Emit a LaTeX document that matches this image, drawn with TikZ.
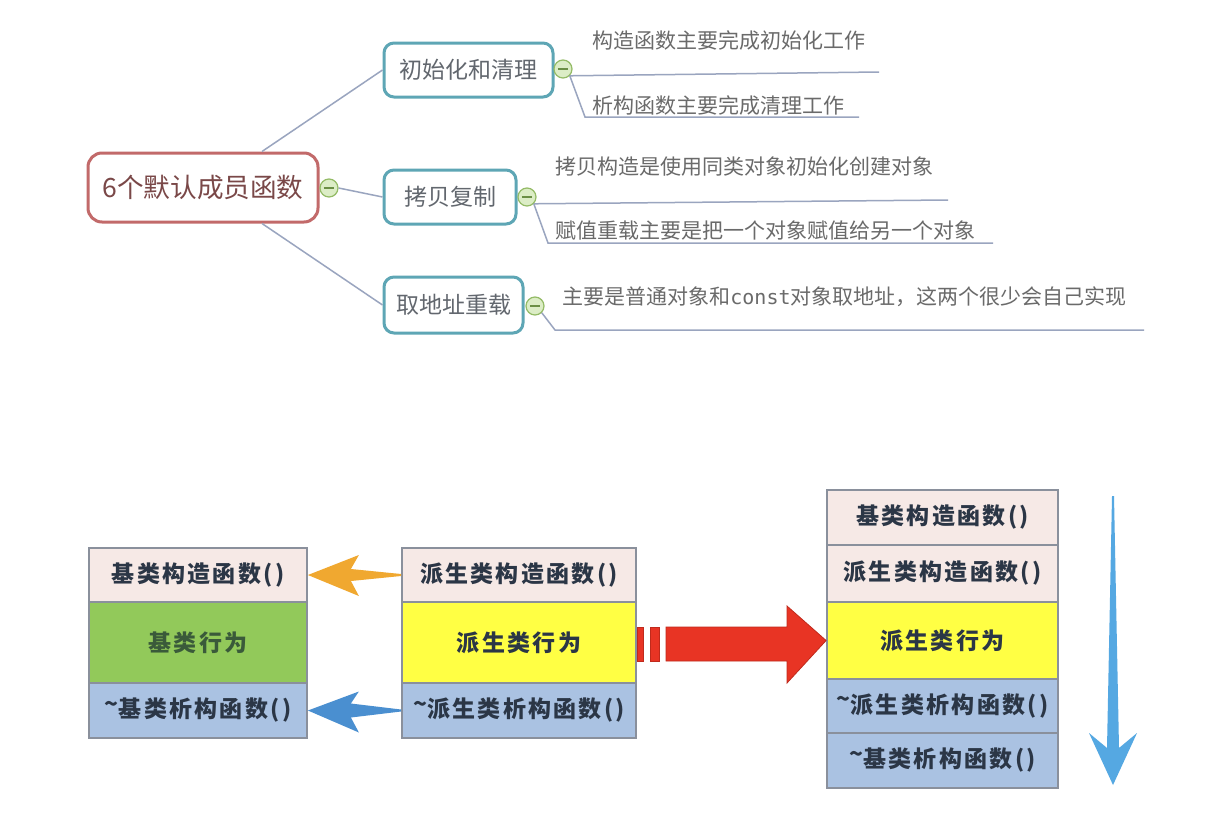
\documentclass[tikz,border=0pt]{standalone}
\usepackage{fontspec}
\setmainfont{Noto Sans CJK SC}
\newfontfamily\monof{DejaVu Sans Mono}
\newfontfamily\cellfont{Noto Sans CJK SC}[LetterSpace=10]
\usetikzlibrary{calc}
\newcommand\hitilde{\raisebox{0.45ex}{\textasciitilde}}
\definecolor{lineC}{HTML}{9AA5BF}
\definecolor{rootC}{HTML}{C26A6A}
\definecolor{rootT}{HTML}{7A4848}
\definecolor{tealC}{HTML}{5EA6B5}
\definecolor{boxT}{HTML}{62676E}
\definecolor{leafT}{HTML}{6A6A6A}
\definecolor{minusF}{HTML}{DCEDC6}
\definecolor{minusD}{HTML}{94BB66}
\definecolor{minusL}{HTML}{6B8F45}
\definecolor{cellB}{HTML}{8A909C}
\definecolor{pinkF}{HTML}{F6E9E6}
\definecolor{greenF}{HTML}{92C95A}
\definecolor{yellowF}{HTML}{FFFF44}
\definecolor{blueF}{HTML}{AAC2E2}
\definecolor{cellT}{HTML}{2B3646}
\definecolor{greenT}{HTML}{3A5A3A}
\definecolor{orangeA}{HTML}{F0A830}
\definecolor{blueA}{HTML}{4A8FD0}
\definecolor{redA}{HTML}{E83424}
\definecolor{redD}{HTML}{C02A1C}
\definecolor{downA}{HTML}{55A8E2}
\begin{document}
\begin{tikzpicture}[x=0.5pt,y=-0.5pt,
  conn/.style={draw=lineC, line width=0.75pt},
  rootbox/.style={draw=rootC, line width=1.5pt, rounded corners=7pt, fill=white,
    text=rootT, font=\fontsize{13.3pt}{15pt}\selectfont, inner sep=0pt},
  childbox/.style={draw=tealC, line width=1.5pt, rounded corners=5pt, fill=white,
    text=boxT, font=\fontsize{11.5pt}{13pt}\selectfont, inner sep=0pt, minimum height=27pt},
  minus/.style={circle, fill=minusF, draw=minusD, line width=0.6pt, minimum size=9pt, inner sep=0pt,
    path picture={\draw[line width=0.7pt, minusL] ([xshift=-2.6pt]path picture bounding box.center) -- ([xshift=2.6pt]path picture bounding box.center);}},
  leaf/.style={anchor=west, text=leafT, font=\fontsize{10.5pt}{12pt}\selectfont, inner sep=0pt},
  cell/.style={draw=cellB, line width=0.9pt, text=cellT, inner sep=0pt,
    font=\cellfont\bfseries\fontsize{11.5pt}{13pt}\selectfont},
]
\useasboundingbox[fill=white] (0,0) rectangle (1220,830);

% ---------- mind map ----------
\node[rootbox, minimum width=115pt, minimum height=34.5pt] (root) at (203,187.5) {6个默认成员函数};
\node[childbox, minimum width=84.5pt] (c1) at (468.5,70) {初始化和清理};
\node[childbox, minimum width=66pt] (c2) at (450,197) {拷贝复制};
\node[childbox, minimum width=69.5pt, minimum height=28pt] (c3) at (453.5,305) {取地址重载};

\node[minus] (m0) at (329,188) {};
\node[minus] (m1) at (563,69) {};
\node[minus] (m2) at (527,197) {};
\node[minus] (m3) at (535,306) {};

\draw[conn] ([xshift=29.5pt]root.north) -- (c1.west);
\draw[conn] ([xshift=29.5pt]root.south) -- (c3.west);
\draw[conn] (m0.east) -- (c2.west);

\node[leaf] (l1) at (592,40) {构造函数主要完成初始化工作};
\node[leaf] (l2) at (592,105) {析构函数主要完成清理工作};
\node[leaf] (l3) at (555,167) {拷贝构造是使用同类对象初始化创建对象};
\node[leaf] (l4) at (555,231) {赋值重载主要是把一个对象赋值给另一个对象};
\node[leaf] (l5) at (562,297) {主要是普通对象和{\monof\fontsize{10pt}{12pt}\selectfont const}对象取地址，这两个很少会自己实现};

\coordinate (e1) at (879,72);
\coordinate (k2) at (585,117); \coordinate (e2) at (859,117);
\coordinate (e3) at (948,200);
\coordinate (k4) at (548,243); \coordinate (e4) at (993,243);
\coordinate (k5) at (555,330); \coordinate (e5) at (1144,330);

\draw[conn] (m1.south east) -- (e1);
\draw[conn] (m1.south east) -- (k2) -- (e2);
\draw[conn] (m2.south east) -- (e3);
\draw[conn] (m2.south east) -- (k4) -- (e4);
\draw[conn] (m3.south east) -- (k5) -- (e5);

% ---------- left stack ----------
\node[cell, fill=pinkF, minimum width=109pt, minimum height=27pt] (b1) at (198,575) {基类构造函数()};
\node[cell, fill=greenF, text=greenT, minimum width=109pt, minimum height=40.5pt] (b2) at (198,642.5) {基类行为};
\node[cell, fill=blueF, minimum width=109pt, minimum height=27.5pt] (b3) at (198,710.5) {\hitilde 基类析构函数()};

% ---------- middle stack ----------
\node[cell, fill=pinkF, minimum width=117pt, minimum height=27pt] (d1) at (519,575) {派生类构造函数()};
\node[cell, fill=yellowF, minimum width=117pt, minimum height=40.5pt] (d2) at (519,642.5) {派生类行为};
\node[cell, fill=blueF, minimum width=117pt, minimum height=27.5pt] (d3) at (519,710.5) {\hitilde 派生类析构函数()};

% ---------- right stack ----------
\node[cell, fill=pinkF, minimum width=115.5pt, minimum height=27.5pt] (r1) at (942.5,517.5) {基类构造函数()};
\node[cell, fill=pinkF, minimum width=115.5pt, minimum height=28.5pt] (r2) at (942.5,573.5) {派生类构造函数()};
\node[cell, fill=yellowF, minimum width=115.5pt, minimum height=38.5pt] (r3) at (942.5,640.5) {派生类行为};
\node[cell, fill=blueF, minimum width=115.5pt, minimum height=27pt] (r4) at (942.5,706) {\hitilde 派生类析构函数()};
\node[cell, fill=blueF, minimum width=115.5pt, minimum height=27.5pt] (r5) at (942.5,760.5) {\hitilde 基类析构函数()};

% ---------- arrows ----------
\fill[orangeA] (b1.east) -- ($(b1.east)+(51,-20)$) -- ($(b1.east)+(43,-6)$) -- ($(d1.west)+(0,-1)$)
  -- ($(d1.west)+(0,1)$) -- ($(b1.east)+(43,6)$) -- ($(b1.east)+(51,21)$) -- cycle;
\fill[blueA] (b3.east) -- ($(b3.east)+(51,-19)$) -- ($(b3.east)+(43,-7)$) -- ($(d3.west)+(0,-1)$)
  -- ($(d3.west)+(0,1)$) -- ($(b3.east)+(43,7)$) -- ($(b3.east)+(51,22)$) -- cycle;

\filldraw[fill=redA, draw=redD, line width=0.4pt] (637,627) rectangle (643,661);
\filldraw[fill=redA, draw=redD, line width=0.4pt] (650,627) rectangle (659,661);
\filldraw[fill=redA, draw=redD, line width=0.4pt] (666,627) -- (787,627) -- (787,606) -- (r3.west)
  -- (787,683) -- (787,661) -- (666,661) -- cycle;

\fill[downA] (1112,496) -- (1114,496) -- (1119,748) -- (1137,733) -- (1113,785) -- (1089,733) -- (1107,748) -- cycle;
\end{tikzpicture}
\end{document}
